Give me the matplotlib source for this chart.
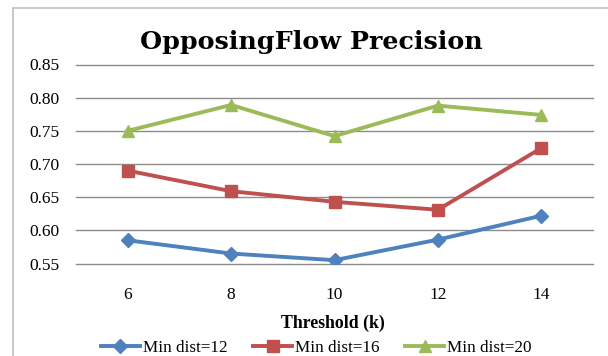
import matplotlib
matplotlib.use('Agg')
import matplotlib.pyplot as plt
from matplotlib.patches import Rectangle

thresholds = ['6', '8', '10', '12', '14']
dist12 = [0.585, 0.565, 0.555, 0.586, 0.622]
dist16 = [0.690, 0.659, 0.643, 0.631, 0.724]
dist20 = [0.750, 0.789, 0.742, 0.788, 0.774]
series_names = ['Min dist=12', 'Min dist=16', 'Min dist=20']
yticks = [0.55, 0.60, 0.65, 0.70, 0.75, 0.80, 0.85]

W, H = 608, 356
fig = plt.figure(figsize=(W / 100, H / 100), dpi=100)
fig.patch.set_facecolor('white')

# chart frame (runs off the right and bottom edge)
fig.patches.append(Rectangle((12.5 / W, -0.1), 1.2, 1 - 7.5 / H + 0.1,
                             transform=fig.transFigure, fill=False,
                             edgecolor='#bfbfbf', linewidth=1.2))

ax = fig.add_axes([76 / W, 1 - 263.5 / H, (593 - 76) / W, (263.5 - 64.5) / H])
x = list(range(len(thresholds)))
styles = [('#4F81BD', 'D', 7), ('#C0504D', 's', 9), ('#9BBB59', '^', 9)]
for vals, name, (col, mk, ms) in zip([dist12, dist16, dist20], series_names, styles):
    ax.plot(x, vals, color=col, marker=mk, markersize=ms, linewidth=2.8,
            label=name, zorder=3)

ax.set_xlim(-0.5, len(thresholds) - 0.5)
ax.set_ylim(0.55, 0.85)
ax.set_yticks(yticks)
ax.set_yticklabels(['%.2f' % v for v in yticks])
ax.set_xticks(x)
ax.set_xticklabels(thresholds)
ax.grid(axis='y', color='#8c8c8c', linewidth=1)
for gl in ax.get_ygridlines():
    gl.set_clip_on(False)
ax.set_axisbelow(True)
for s in ax.spines.values():
    s.set_visible(False)
ax.tick_params(length=0, labelsize=12.5)
ax.tick_params(axis='x', pad=17)
ax.tick_params(axis='y', pad=12)
for lab in ax.get_xticklabels() + ax.get_yticklabels():
    lab.set_fontfamily('Liberation Serif')

fig.text(311.5 / W, 1 - 42 / H, 'OpposingFlow Precision', ha='center', va='center',
         fontsize=18.3, fontweight='bold', family='DejaVu Serif')
fig.text(333 / W, 1 - 323 / H, 'Threshold (k)', ha='center', va='center',
         fontsize=12.8, fontweight='bold', family='Liberation Serif')

fig.legend(loc='center', bbox_to_anchor=(316 / W, 1 - 348 / H), ncol=3,
           frameon=False, handlelength=2.3, columnspacing=1.5, handletextpad=0.15,
           prop={'family': 'Liberation Serif', 'size': 12.3})

fig.savefig('out.png', dpi=100)
